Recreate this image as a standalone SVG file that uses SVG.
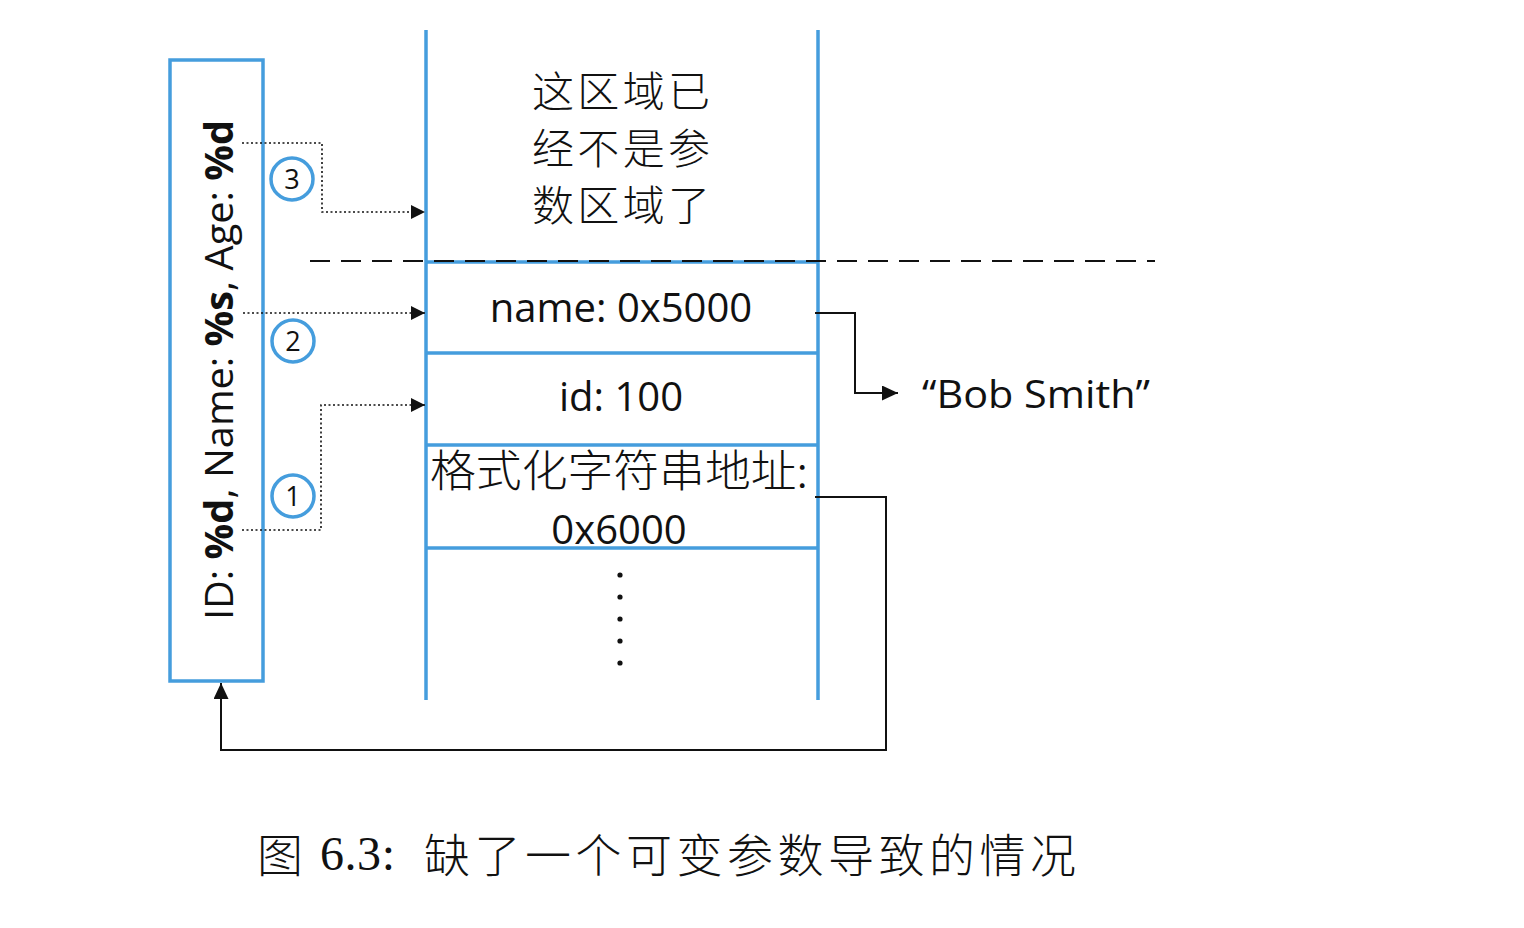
<svg xmlns="http://www.w3.org/2000/svg" width="1524" height="928" viewBox="0 0 1524 928">
<style>
.blue{stroke:#459ddd;stroke-width:3.5;fill:none}
.lat{font-family:"Open Sans","Noto Sans CJK SC",sans-serif;fill:#111}
.cjk{font-family:"Noto Sans CJK SC","Noto Sans",sans-serif;fill:#111;font-weight:300}
.dot{stroke:#111;stroke-width:1.6;stroke-dasharray:2 2.5;fill:none}
.solid{stroke:#111;stroke-width:2;fill:none}
.num{font-family:"Open Sans",sans-serif;font-size:27px;fill:#111;text-anchor:middle}
</style>
<defs>
<marker id="ah" viewBox="0 0 14 14" refX="14" refY="7" markerWidth="14" markerHeight="14" markerUnits="userSpaceOnUse" orient="auto">
<path d="M0,0 L14,7 L0,14 Z" fill="#111"/>
</marker>
<marker id="ahb" viewBox="0 0 16 15" refX="16" refY="7.5" markerWidth="16" markerHeight="15" markerUnits="userSpaceOnUse" orient="auto">
<path d="M0,0 L16,7.5 L0,15 Z" fill="#111"/>
</marker>
</defs>
<rect width="1524" height="928" fill="#fff"/>

<g id="format-string">
<rect class="blue" x="170" y="60" width="93" height="621"/>
<text class="lat" font-size="39" text-anchor="middle" transform="translate(233,370) rotate(-90)" textLength="500" lengthAdjust="spacingAndGlyphs">ID: <tspan font-weight="bold">%d</tspan>, Name: <tspan font-weight="bold">%s</tspan>, Age: <tspan font-weight="bold">%d</tspan></text>
</g>

<g id="stack">
<line class="blue" x1="426" y1="30" x2="426" y2="700"/>
<line class="blue" x1="818" y1="30" x2="818" y2="700"/>
<line class="blue" x1="426" y1="262" x2="818" y2="262"/>
<line class="blue" x1="426" y1="353" x2="818" y2="353"/>
<line class="blue" x1="426" y1="445" x2="818" y2="445"/>
<line class="blue" x1="426" y1="548" x2="818" y2="548"/>
</g>

<g id="region-note">
<text class="cjk" font-size="42" text-anchor="middle" x="621" y="107" textLength="178" lengthAdjust="spacing">这区域已</text>
<text class="cjk" font-size="42" text-anchor="middle" x="621" y="164" textLength="178" lengthAdjust="spacing">经不是参</text>
<text class="cjk" font-size="42" text-anchor="middle" x="621" y="221" textLength="178" lengthAdjust="spacing">数区域了</text>
</g>

<g id="cell-name">
<text class="lat" font-size="40" text-anchor="middle" x="621" y="322">name: 0x5000</text>
</g>
<g id="cell-id">
<text class="lat" font-size="40" text-anchor="middle" x="621" y="411">id: 100</text>
</g>
<g id="cell-fmt">
<text class="cjk" font-size="44" x="430" y="487" textLength="378" lengthAdjust="spacingAndGlyphs">格式化字符串地址:</text>
<text class="lat" font-size="40" text-anchor="middle" x="619" y="544">0x6000</text>
</g>
<g id="ellipsis" fill="#111">
<circle cx="620" cy="575" r="2.6"/>
<circle cx="620" cy="597" r="2.6"/>
<circle cx="620" cy="619" r="2.6"/>
<circle cx="620" cy="641" r="2.6"/>
<circle cx="620" cy="663" r="2.6"/>
</g>

<g id="bob">
<text class="lat" font-size="39" x="922" y="408" textLength="228" lengthAdjust="spacingAndGlyphs">“Bob Smith”</text>
</g>

<g id="badges">
<circle class="blue" cx="292" cy="179" r="21" stroke-width="3"/>
<text class="num" x="292" y="189">3</text>
<circle class="blue" cx="293" cy="341" r="21" stroke-width="3"/>
<text class="num" x="293" y="351">2</text>
<circle class="blue" cx="293" cy="496" r="21" stroke-width="3"/>
<text class="num" x="293" y="506">1</text>
</g>

<g id="connectors">
<line x1="310" y1="261" x2="1155" y2="261" stroke="#111" stroke-width="2.2" stroke-dasharray="20 11"/>
<polyline class="dot" points="242,143 322,143 322,212 425,212" marker-end="url(#ah)"/>
<polyline class="dot" points="243,313 425,313" marker-end="url(#ah)"/>
<polyline class="dot" points="242,530 321,530 321,405 425,405" marker-end="url(#ah)"/>
<polyline class="solid" points="815,313 855,313 855,393 898,393" marker-end="url(#ahb)"/>
<polyline class="solid" points="815,497 886,497 886,750 221,750 221,683" marker-end="url(#ahb)"/>
</g>

<g id="caption">
<text class="cjk" font-size="46" font-weight="400" x="257" y="872">图</text>
<text font-family="Liberation Serif, serif" font-size="48" fill="#111" x="320" y="870" textLength="75" lengthAdjust="spacing">6.3:</text>
<text class="cjk" font-size="46" font-weight="400" x="424" y="872" textLength="652" lengthAdjust="spacing">缺了一个可变参数导致的情况</text>
</g>
</svg>
